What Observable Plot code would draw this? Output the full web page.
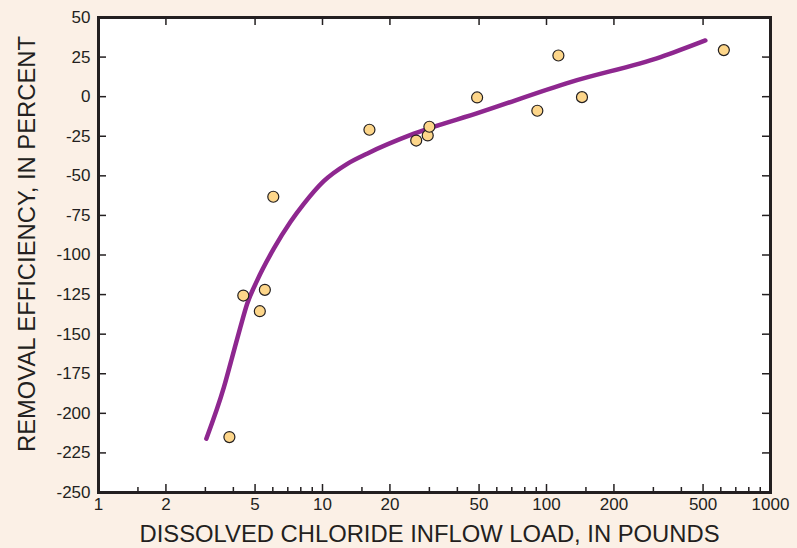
<!DOCTYPE html>
<html>
<head>
<meta charset="utf-8">
<script src="https://cdn.jsdelivr.net/npm/d3@7"></script>
<script src="https://cdn.jsdelivr.net/npm/@observablehq/plot@0.6"></script>
<style>
  html, body { margin: 0; padding: 0; background: #fbf0e6; }
  #chart { width: 797px; height: 548px; }
  svg { font-family: "Liberation Sans", Arial, Helvetica, sans-serif; }
</style>
</head>
<body>
<div id="chart"></div>
<script>
// Observed samples
const loadObs = [3.84, 4.43, 5.53, 5.25, 6.03, 16.2, 26.2, 29.5, 30, 49, 91, 113, 144, 619];
const effObs  = [-215, -125.6, -122, -135.5, -63.2, -20.9, -27.7, -24.5, -19, -0.5, -8.9, 26, -0.3, 29.4];

// Fitted curve
const loadFit = [3.03, 3.63, 3.95, 4.3, 4.61, 5.11, 6.06, 7.2, 8.25, 10.1, 12.9, 15.8, 25.6, 50.7, 128, 323, 512];
const effFit  = [-216, -183.5, -164.6, -145.6, -130.8, -116, -96, -79, -67.7, -53.5, -42.4, -36, -23.4, -9.8, 9.2, 25, 35.5];

// Tick values
const xMajor = [1, 2, 5, 10, 20, 50, 100, 200, 500, 1000];
const xMinor = [1.5, 3, 4, 6, 7, 8, 9, 15, 30, 40, 60, 70, 80, 90, 150, 300, 400, 600, 700, 800, 900];
const yTicks = [50, 25, 0, -25, -50, -75, -100, -125, -150, -175, -200, -225, -250];

const xTitle = "DISSOLVED CHLORIDE INFLOW LOAD, IN POUNDS";
const yTitle = "REMOVAL EFFICIENCY, IN PERCENT";

const W = 797, H = 548;
const mL = 98, mR = 27, mT = 17, mB = 56;
const pw = W - mL - mR, ph = H - mT - mB;

const obs = loadObs.map((x, i) => ({x, y: effObs[i]}));
const fit = loadFit.map((x, i) => ({x, y: effFit[i]}));

const ink = "#231f20";

const chart = Plot.plot({
  width: W, height: H,
  marginLeft: mL, marginRight: mR, marginTop: mT, marginBottom: mB,
  style: {background: "transparent", fontFamily: "Liberation Sans, Arial, sans-serif", color: ink},
  x: {type: "log", domain: [1, 1000], axis: null},
  y: {domain: [-250, 50], axis: null},
  marks: [
    Plot.frame({fill: "white", stroke: null}),
    Plot.text(xMajor, {x: d => d, text: d => String(d), frameAnchor: "bottom", dy: 17, fontSize: 17, fill: ink}),
    Plot.text(yTicks, {y: d => d, text: d => String(d), frameAnchor: "left", textAnchor: "end", dx: -8, fontSize: 17, fill: ink}),
    Plot.tickX(xMajor, {x: d => d, insetTop: ph - 8, stroke: ink, strokeWidth: 1.5}),
    Plot.tickX(xMinor, {x: d => d, insetTop: ph - 5, stroke: ink, strokeWidth: 1.5}),
    Plot.tickX(xMajor.slice(1, -1), {x: d => d, insetBottom: ph - 8, stroke: ink, strokeWidth: 1.5}),
    Plot.tickY(yTicks, {y: d => d, insetRight: pw - 8, stroke: ink, strokeWidth: 1.5}),
    Plot.tickY(yTicks, {y: d => d, insetLeft: pw - 8, stroke: ink, strokeWidth: 1.5}),
    Plot.line(fit, {x: "x", y: "y", curve: "monotone-x", stroke: "#8e278f", strokeWidth: 4.5, strokeLinecap: "round"}),
    Plot.dot(obs, {x: "x", y: "y", r: 5.5, fill: "#fdd68a", stroke: ink, strokeWidth: 1.2}),
    Plot.frame({stroke: ink, strokeWidth: 3}),
    Plot.text([xTitle], {frameAnchor: "bottom", dy: 49, dx: -5, fontSize: 23.8, fill: ink}),
    Plot.text([yTitle], {frameAnchor: "left", textAnchor: "middle", rotate: -90, dx: -71, dy: -11, fontSize: 23.8, fill: ink})
  ]
});
document.getElementById("chart").appendChild(chart);
</script>
</body>
</html>
